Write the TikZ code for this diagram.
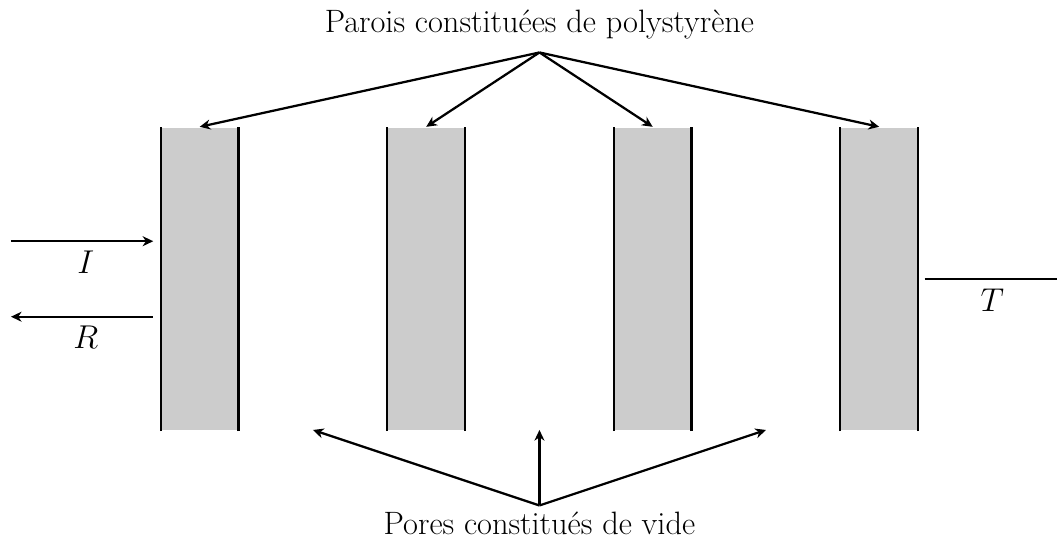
\documentclass[tikz,border=0pt]{standalone}
\usepackage{amsmath, amssymb}
\usepackage{tikz}
\usetikzlibrary{arrows.meta}
\definecolor{wallGray}{RGB}{204, 204, 204}

\begin{document}
\begin{tikzpicture}[line width=1.7pt, >={Stealth[length=8pt, width=7.5pt, inset=2.5pt]},
    font=\fontsize{24.4}{29}\selectfont,
    wall/.style={fill=wallGray, draw=none, inner sep=0pt,
      minimum width=2cm, minimum height=8cm}]
  \useasboundingbox (-4.29,-2.91) rectangle (23.71,11.39);
  % parois
  \foreach \x [count=\i] in {0,6,12,18} {
    \node[wall] (w\i) at (\x+1,4) {};
    \draw (w\i.south west) -- (w\i.north west);
    \draw (w\i.south east) -- (w\i.north east);
  }
  \node[anchor=south] (parois) at (10,10.2) {Parois constituées de polystyrène};
  \coordinate (pa) at (10,10);
  \foreach \i in {1,...,4}
    \draw[->] (pa) -- (w\i.north);
  % pores
  \node[anchor=north, inner sep=1pt] (pores) at (10,-2.1) {Pores constitués de vide};
  \coordinate (po) at (10,-2);
  \coordinate (p1) at (4,0);
  \coordinate (p2) at (10,0);
  \coordinate (p3) at (16,0);
  \foreach \i in {1,2,3}
    \draw[->] (po) -- (p\i);
  % ondes
  \coordinate (Ia) at (-4,5);
  \coordinate (Rb) at (-4,3);
  \coordinate (Ta) at (20.2,4);
  \coordinate (Tb) at (23.8,4);
  \draw[->, shorten >=0.2cm] (Ia) -- (w1.west |- Ia) node[midway, below=3pt] {$I$};
  \draw[<-, shorten >=0.2cm] (Rb) -- (w1.west |- Rb) node[midway, below=3pt] {$R$};
  \draw (Ta) -- (Tb) node[midway, below=3pt] {$T$};
\end{tikzpicture}
\end{document}
